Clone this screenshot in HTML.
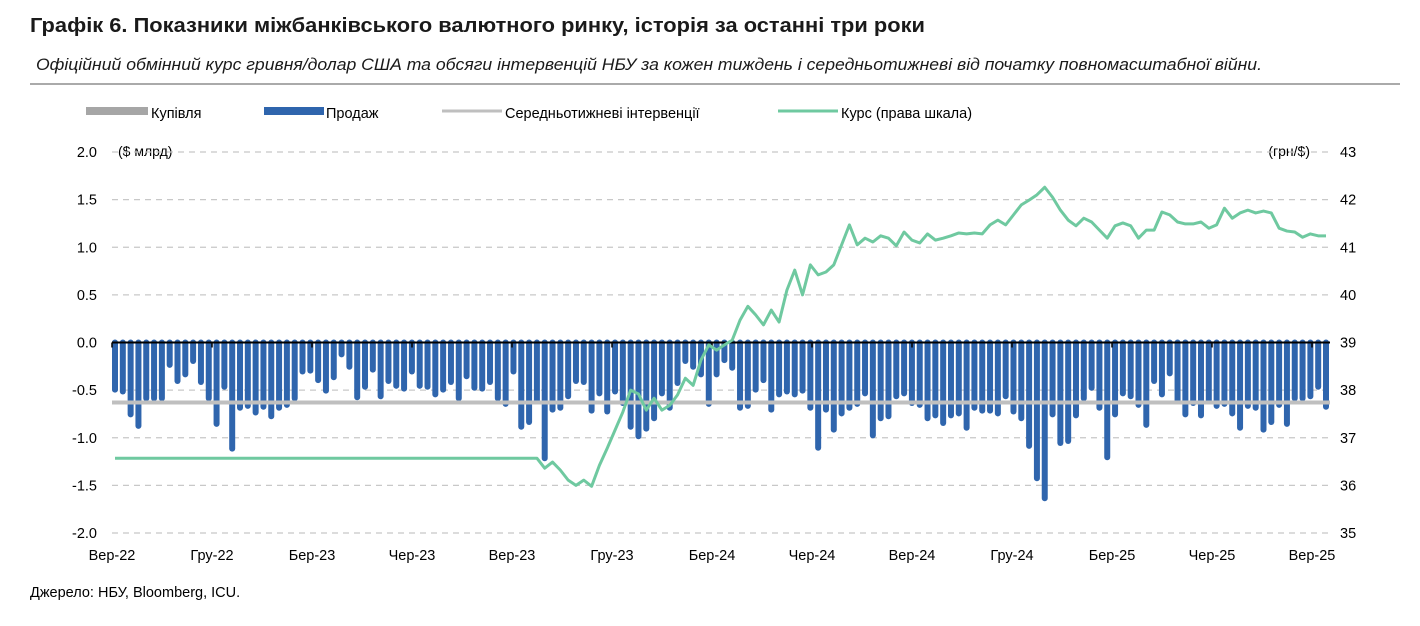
<!DOCTYPE html>
<html><head><meta charset="utf-8"><style>
body{margin:0;background:#fff;font-family:"Liberation Sans",sans-serif;}
svg text{font-family:"Liberation Sans",sans-serif;}
</style></head><body>
<svg id="c" width="1420" height="621" xmlns="http://www.w3.org/2000/svg">
<text x="30" y="32" font-size="20" font-weight="bold" fill="#1a1a1a" textLength="895" lengthAdjust="spacingAndGlyphs">Графік 6. Показники міжбанківського валютного ринку, історія за останні три роки</text>
<text x="36" y="70" font-size="16.5" font-style="italic" fill="#1a1a1a" textLength="1226" lengthAdjust="spacingAndGlyphs">Офіційний обмінний курс гривня/долар США та обсяги інтервенцій НБУ за кожен тиждень і середньотижневі від початку повномасштабної війни.</text>
<line x1="30" y1="84" x2="1400" y2="84" stroke="#555" stroke-width="1"/>
<g>
<g><rect x="86" y="107" width="62" height="8" fill="#a6a6a6"/><text x="151" y="118" font-size="14.5">Купівля</text></g>
<g><rect x="264" y="107" width="60" height="8" fill="#2f65ad"/><text x="326" y="118" font-size="14.5">Продаж</text></g>
<g><line x1="442" y1="111" x2="502" y2="111" stroke="#bfbfbf" stroke-width="3"/><text x="505" y="118" font-size="14.5">Середньотижневі інтервенції</text></g>
<g><line x1="778" y1="111" x2="838" y2="111" stroke="#6fc9a0" stroke-width="3"/><text x="841" y="118" font-size="14.5">Курс (права шкала)</text></g>
</g>
<text x="118" y="156" font-size="14">($ млрд)</text>
<text x="1310" y="156" font-size="14" text-anchor="end">(грн/$)</text>
<g id="grid"></g><g id="bars"></g><g id="over"></g>
<text x="30" y="597" font-size="14.5">Джерело: НБУ, Bloomberg, ICU.</text>
</svg>
<script>
const sales=[-0.5,-0.52,-0.76,-0.88,-0.59,-0.59,-0.59,-0.24,-0.41,-0.34,-0.2,-0.42,-0.59,-0.86,-0.47,-1.12,-0.69,-0.67,-0.74,-0.68,-0.78,-0.69,-0.66,-0.59,-0.31,-0.3,-0.4,-0.51,-0.37,-0.13,-0.26,-0.58,-0.47,-0.29,-0.57,-0.41,-0.46,-0.49,
-0.31,-0.46,-0.47,-0.55,-0.5,-0.42,-0.59,-0.36,-0.48,-0.49,-0.42,-0.59,-0.65,-0.31,-0.89,-0.84,-0.62,-1.22,-0.71,-0.69,-0.57,-0.41,-0.42,-0.72,-0.54,-0.73,-0.52,-0.64,-0.89,-0.99,-0.91,-0.8,-0.54,-0.69,-0.43,-0.2,-0.26,-0.34,-0.65,-0.34,-0.19,
-0.27,-0.69,-0.67,-0.5,-0.4,-0.71,-0.55,-0.52,-0.55,-0.51,-0.69,-1.11,-0.71,-0.92,-0.75,-0.69,-0.65,-0.54,-0.98,-0.8,-0.78,-0.57,-0.54,-0.64,-0.66,-0.8,-0.77,-0.85,-0.77,-0.75,-0.9,-0.69,-0.72,-0.72,-0.75,-0.57,-0.73,-0.8,-1.09,
-1.43,-1.64,-0.76,-1.06,-1.04,-0.77,-0.59,-0.48,-0.69,-1.21,-0.76,-0.54,-0.57,-0.66,-0.87,-0.41,-0.55,-0.33,-0.62,-0.76,-0.64,-0.77,-0.62,-0.67,-0.65,-0.75,-0.9,-0.67,-0.69,-0.92,-0.84,-0.66,-0.86,-0.59,-0.59,-0.57,-0.47,-0.68];
const avgIntervention=-0.63;
const rateTail=[36.36,36.49,36.32,36.11,36.0,36.11,35.98,36.42,36.78,37.16,37.54,38.0,37.92,37.58,37.83,37.58,37.68,37.9,38.25,38.1,38.63,38.95,38.84,38.95,39.05,39.47,39.76,39.58,39.37,39.68,39.43,40.1,40.52,40.0,40.63,40.42,40.48,40.63,41.05,41.47,41.05,41.19,41.11,41.24,41.19,41.03,41.32,41.15,41.09,41.28,41.15,41.19,41.24,41.3,41.28,41.3,41.28,41.47,41.57,41.47,41.68,41.89,41.99,42.1,42.26,42.05,41.78,41.57,41.45,41.61,41.53,41.36,41.19,41.45,41.51,41.45,41.19,41.36,41.36,41.74,41.68,41.53,41.49,41.49,41.53,41.4,41.47,41.82,41.61,41.72,41.78,41.72,41.76,41.72,41.4,41.34,41.32,41.21,41.28,41.24,41.24];
const rateFlat=36.57;
const leftTicks=["2.0","1.5","1.0","0.5","0.0","-0.5","-1.0","-1.5","-2.0"];
const rightTicks=["43","42","41","40","39","38","37","36","35"];
const xLabels=["Вер-22","Гру-22","Бер-23","Чер-23","Вер-23","Гру-23","Бер-24","Чер-24","Вер-24","Гру-24","Бер-25","Чер-25","Вер-25"];

const NS="http://www.w3.org/2000/svg";
const rate=[];
const flatN=Math.max(0,sales.length-rateTail.length);
for(let i=0;i<flatN;i++)rate.push(rateFlat);
rateTail.forEach(v=>rate.push(v));
const X0=115,X1=1326;
const x=i=>X0+i*(X1-X0)/(sales.length-1);
const yL=v=>342.5-v*95.25;
const yR=v=>152+(43-v)*47.625;
function mk(t,a,p){const e=document.createElementNS(NS,t);for(const k in a)e.setAttribute(k,a[k]);(p||document.getElementById('c')).appendChild(e);return e;}
const grid=document.getElementById('grid'),bars=document.getElementById('bars'),over=document.getElementById('over');
leftTicks.forEach((t,i)=>{const v=parseFloat(t);const y=yL(v);
 if(v!==0){const g=mk('line',{x1:112,x2:1330,y1:y,y2:y,stroke:'#c8c8c8','stroke-dasharray':'6,5','stroke-width':1.2},grid);
 
 }
 const tx=mk('text',{x:97,y:y+5,'font-size':14.5,'text-anchor':'end'});tx.textContent=t;
 
 
});
rightTicks.forEach((t,i)=>{const y=yR(parseFloat(t));
 const tx=mk('text',{x:1340,y:y+5,'font-size':14.5});tx.textContent=t;
 
 
});
sales.forEach((v,i)=>{const b=mk('line',{x1:x(i),x2:x(i),y1:yL(0),y2:yL(v)-0.5,stroke:'#2f65ad','stroke-width':6,'stroke-linecap':'round'},bars);
 
 
});
const avg=mk('line',{x1:112,x2:1330,y1:yL(avgIntervention),y2:yL(avgIntervention),stroke:'#bfbfbf','stroke-width':4},over);


const zl=mk('line',{x1:112,x2:1330,y1:yL(0),y2:yL(0),stroke:'#000','stroke-width':2},over);


xLabels.forEach((t,i)=>{const xx=112+i*(1312-112)/12;
 const tk=mk('line',{x1:xx,x2:xx,y1:yL(0),y2:yL(0)+5,stroke:'#000','stroke-width':1.5},over);
 
 
 const tx=mk('text',{x:xx,y:560,'font-size':14.5,'text-anchor':'middle'});tx.textContent=t;
 
 
});
const pl=mk('polyline',{points:rate.map((v,i)=>x(i)+','+yR(v)).join(' '),fill:'none',stroke:'#6fc9a0','stroke-width':3,'stroke-linejoin':'round'},over);


</script>
</body></html>
